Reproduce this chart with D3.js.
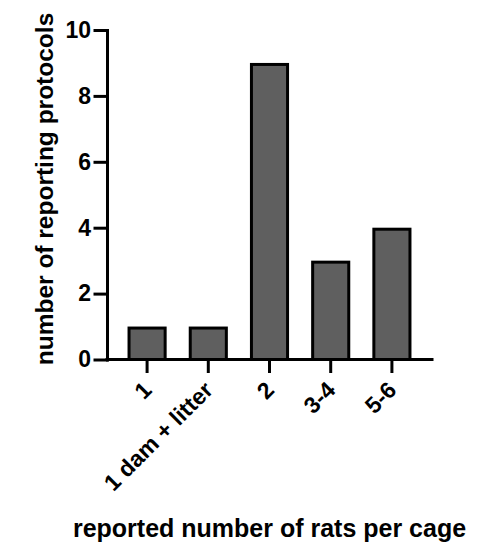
<!DOCTYPE html>
<html>
<head>
<meta charset="utf-8">
<script src="https://cdn.jsdelivr.net/npm/d3@7"></script>
<style>
  body { margin: 0; background: #fff; }
  text { font-family: "Liberation Sans", Arial, sans-serif; font-weight: bold; fill: #000; }
</style>
</head>
<body>
<svg></svg>
<script>
// data
const categories = ['1', '1 dam + litter', '2', '3-4', '5-6'];
const counts = [1, 1, 9, 3, 4];
const yTicks = [0, 2, 4, 6, 8, 10];

const W = 478, H = 550;
const plot = {l: 107, r: 432, t: 30, b: 359.5};
const barStroke = 3;

const svg = d3.select('svg')
    .attr('width', W)
    .attr('height', H);

const scaleX = d3.scaleBand()
    .domain(categories)
    .range([plot.l, plot.r])
    .paddingInner(0.41)
    .paddingOuter(0.36);

const scaleY = d3.scaleLinear()
    .domain([0, 10])
    .range([plot.b, plot.t]);

// bars (stroke kept inside the value edge)
svg.append('g')
    .selectAll('rect')
    .data(categories)
    .join('rect')
    .attr('x', d => scaleX(d))
    .attr('width', scaleX.bandwidth())
    .attr('y', (d, i) => scaleY(counts[i]) + barStroke / 2)
    .attr('height', (d, i) => scaleY(0) - scaleY(counts[i]) - barStroke / 2)
    .attr('fill', '#5f5f5f')
    .attr('stroke', '#000')
    .attr('stroke-width', barStroke);

// y axis
const axisYG = svg.append('g')
    .attr('transform', `translate(${plot.l}, 0)`)
    .call(d3.axisLeft(scaleY).tickValues(yTicks).tickSize(12).tickPadding(4).tickSizeOuter(0));

// x axis
const axisXG = svg.append('g')
    .attr('transform', `translate(0, ${plot.b})`)
    .call(d3.axisBottom(scaleX).tickSize(12).tickSizeOuter(0));

axisXG.select('.domain').attr('d', `M${plot.l},0H${plot.r}`);

axisXG.selectAll('.tick text')
    .attr('x', 0)
    .attr('y', 0)
    .attr('dy', 0)
    .attr('text-anchor', 'end')
    .attr('transform', 'translate(6, 32) rotate(-45)');

svg.selectAll('.domain, .tick line')
    .attr('stroke', '#000')
    .attr('stroke-width', 3)
    .attr('stroke-linecap', 'square');

svg.selectAll('.tick text')
    .attr('font-size', 23)
    .attr('font-family', '"Liberation Sans", Arial, sans-serif')
    .attr('font-weight', 'bold')
    .attr('fill', '#000');

// axis titles
svg.append('text')
    .attr('transform', 'translate(53, 189) rotate(-90)')
    .attr('text-anchor', 'middle')
    .attr('font-size', 24.5)
    .text('number of reporting protocols');

svg.append('text')
    .attr('x', (plot.l + plot.r) / 2)
    .attr('y', 537)
    .attr('text-anchor', 'middle')
    .attr('font-size', 25)
    .text('reported number of rats per cage');
</script>
</body>
</html>
